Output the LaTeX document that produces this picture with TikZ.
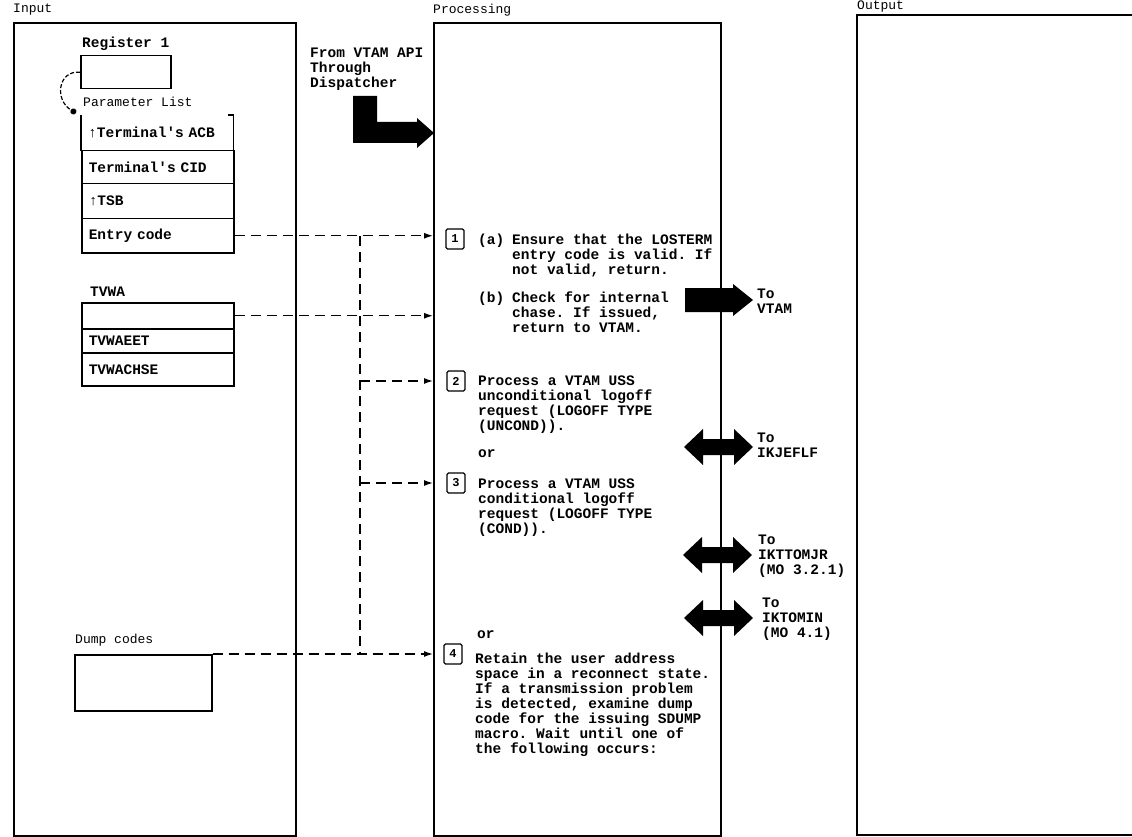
\documentclass[tikz,border=0pt]{standalone}
\usepackage{fontspec}
\setmonofont{Liberation Mono}
\usetikzlibrary{arrows.meta}
\begin{document}
\begin{tikzpicture}[x=1pt,y=-1pt,
  every node/.style={font=\ttfamily\bfseries\fontsize{14.5}{15}\selectfont, inner sep=0pt},
  title/.style={anchor=north west, font=\ttfamily\fontsize{13}{14}\selectfont},
  lbl/.style={anchor=north west},
  para/.style={anchor=north west, align=left},
  colbox/.style={draw, line width=1.6pt, anchor=north west},
  field/.style={draw, line width=1.5pt, anchor=north west, minimum width=152pt, inner xsep=7pt, text width=138pt, align=left},
  stepnum/.style={draw, line width=1.3pt, rounded corners=1.5pt, minimum width=18pt, minimum height=20pt, font=\ttfamily\bfseries\fontsize{12}{12}\selectfont},
  conn/.style={line width=1.3pt, dash pattern=on 10pt off 6pt, -{Latex[length=9pt,width=6pt]}},
  dline/.style={line width=1.3pt, dash pattern=on 10pt off 6pt},
  bigarrow/.style={fill=black},
  dbl/.pic={\fill (-34,0) -- (-15,-18) -- (-15,-8) -- (16,-8) -- (16,-18) -- (35,0) -- (16,18) -- (16,8) -- (-15,8) -- (-15,18) -- cycle;}
]
\useasboundingbox (0,0) rectangle (1132,837);

% column titles
\node[title] (tin) at (13,4) {Input};
\node[title] (tproc) at (433,4) {Processing};
\node[title] (tout) at (857,1) {Output};

% column boxes
\node[colbox, minimum width=282pt, minimum height=813pt] (inbox) at (13,22) {};
\node[colbox, minimum width=287pt, minimum height=813pt] (proc) at (433,22) {};
\draw[line width=1.6pt] (1134,15) -- (857,15) -- (857,835) -- (1134,835);

% Register 1
\node[lbl] (reglbl) at (82,37) {Register 1};
\node[draw, line width=1.5pt, anchor=north west, minimum width=90pt, minimum height=33pt] (reg) at (80,55) {};

% Parameter list
\node[lbl, font=\ttfamily\fontsize{13}{14}\selectfont] (plbl) at (83,97) {Parameter List};
\node[anchor=north west, minimum width=152pt, minimum height=35pt, inner xsep=7pt, text width=138pt, align=left] (p1) at (81,115) {↑Terminal's ACB};
\draw[line width=1.5pt] (p1.north west) -- (p1.south west) -- (p1.south east) -- (p1.north east) -- ++(-5,0);
\node[field, minimum height=33pt] (p2) at (81,150) {Terminal's CID};
\node[field, minimum height=35pt] (p3) at (81,183) {↑TSB};
\node[field, minimum height=34pt] (p4) at (81,218) {Entry code};
\draw[line width=1.2pt, dash pattern=on 4pt off 2pt, -{Circle[length=6pt]}] (reg.west) .. controls (58,70) and (54,100) .. (76,113);

% TVWA
\node[lbl] (tvwalbl) at (90,287) {TVWA};
\node[field, minimum height=26pt] (t1) at (81,302) {};
\node[field, minimum height=24pt] (t2) at (81,328) {TVWAEET};
\node[field, minimum height=33pt] (t3) at (81,352) {TVWACHSE};

% Dump codes
\node[lbl, font=\ttfamily\fontsize{13}{14}\selectfont] (dumplbl) at (75,634) {Dump codes};
\node[draw, line width=1.5pt, anchor=north west, minimum width=137pt, minimum height=56pt] (dump) at (74,654) {};

% From VTAM API
\node[para] (from) at (310,48) {From VTAM API\\Through\\Dispatcher};
\fill[bigarrow] (353,96) -- (377,96) -- (377,122) -- (417,122) -- (417,118) -- (434,133) -- (417,148) -- (417,143) -- (353,143) -- cycle;

% Step numbers
\node[stepnum] (s1) at (455,239) {1};
\node[stepnum] (s2) at (456,381) {2};
\node[stepnum] (s3) at (456,483) {3};
\node[stepnum] (s4) at (453,654) {4};

% Processing text
\node[para] (s1a) at (478,234) {(a)};
\node[para] (s1at) at (512,234) {Ensure that the LOSTERM\\entry code is valid. If\\not valid, return.};
\node[para] (s1b) at (478,292) {(b)};
\node[para] (s1bt) at (512,292) {Check for internal\\chase. If issued,\\return to VTAM.};
\node[para] (s2t) at (478,376) {Process a VTAM USS\\unconditional logoff\\request (LOGOFF TYPE\\(UNCOND)).};
\node[para] (or1) at (478,449) {or};
\node[para] (s3t) at (478,479) {Process a VTAM USS\\conditional logoff\\request (LOGOFF TYPE\\(COND)).};
\node[para] (or2) at (477,630) {or};
\node[para] (s4t) at (475,653) {Retain the user address\\space in a reconnect state.\\If a transmission problem\\is detected, examine dump\\code for the issuing SDUMP\\macro. Wait until one of\\the following occurs:};

% Output-side arrows and labels
\fill[bigarrow] (685,288) -- (733,288) -- (733,284) -- (753,300) -- (733,316) -- (733,312) -- (685,312) -- cycle;
\node[para] (tovtam) at (757,289) {To\\VTAM};
\pic at (718,447) {dbl};
\node[para] (toikj) at (757,433) {To\\IKJEFLF};
\pic at (717,555) {dbl};
\node[para] (toiktt) at (758,535) {To\\IKTTOMJR\\(MO 3.2.1)};
\pic at (718,618) {dbl};
\node[para] (toiktom) at (762,598) {To\\IKTOMIN\\(MO 4.1)};

% Dashed connectors
\coordinate (j1) at (360,0 |- p4.east);
\coordinate (j4) at (360,0 |- dump.north east);
\draw[conn] (p4.east) -- (p4.east -| proc.west);
\draw[conn] (t1.east) -- (t1.east -| proc.west);
\draw[dline] (j1) -- (j4);
\draw[conn] (j1 |- s2) -- (s2 -| proc.west);
\draw[conn] (j1 |- s3) -- (s3 -| proc.west);
\draw[conn] (dump.north east) -- (dump.north east -| proc.west);
\end{tikzpicture}
\end{document}
